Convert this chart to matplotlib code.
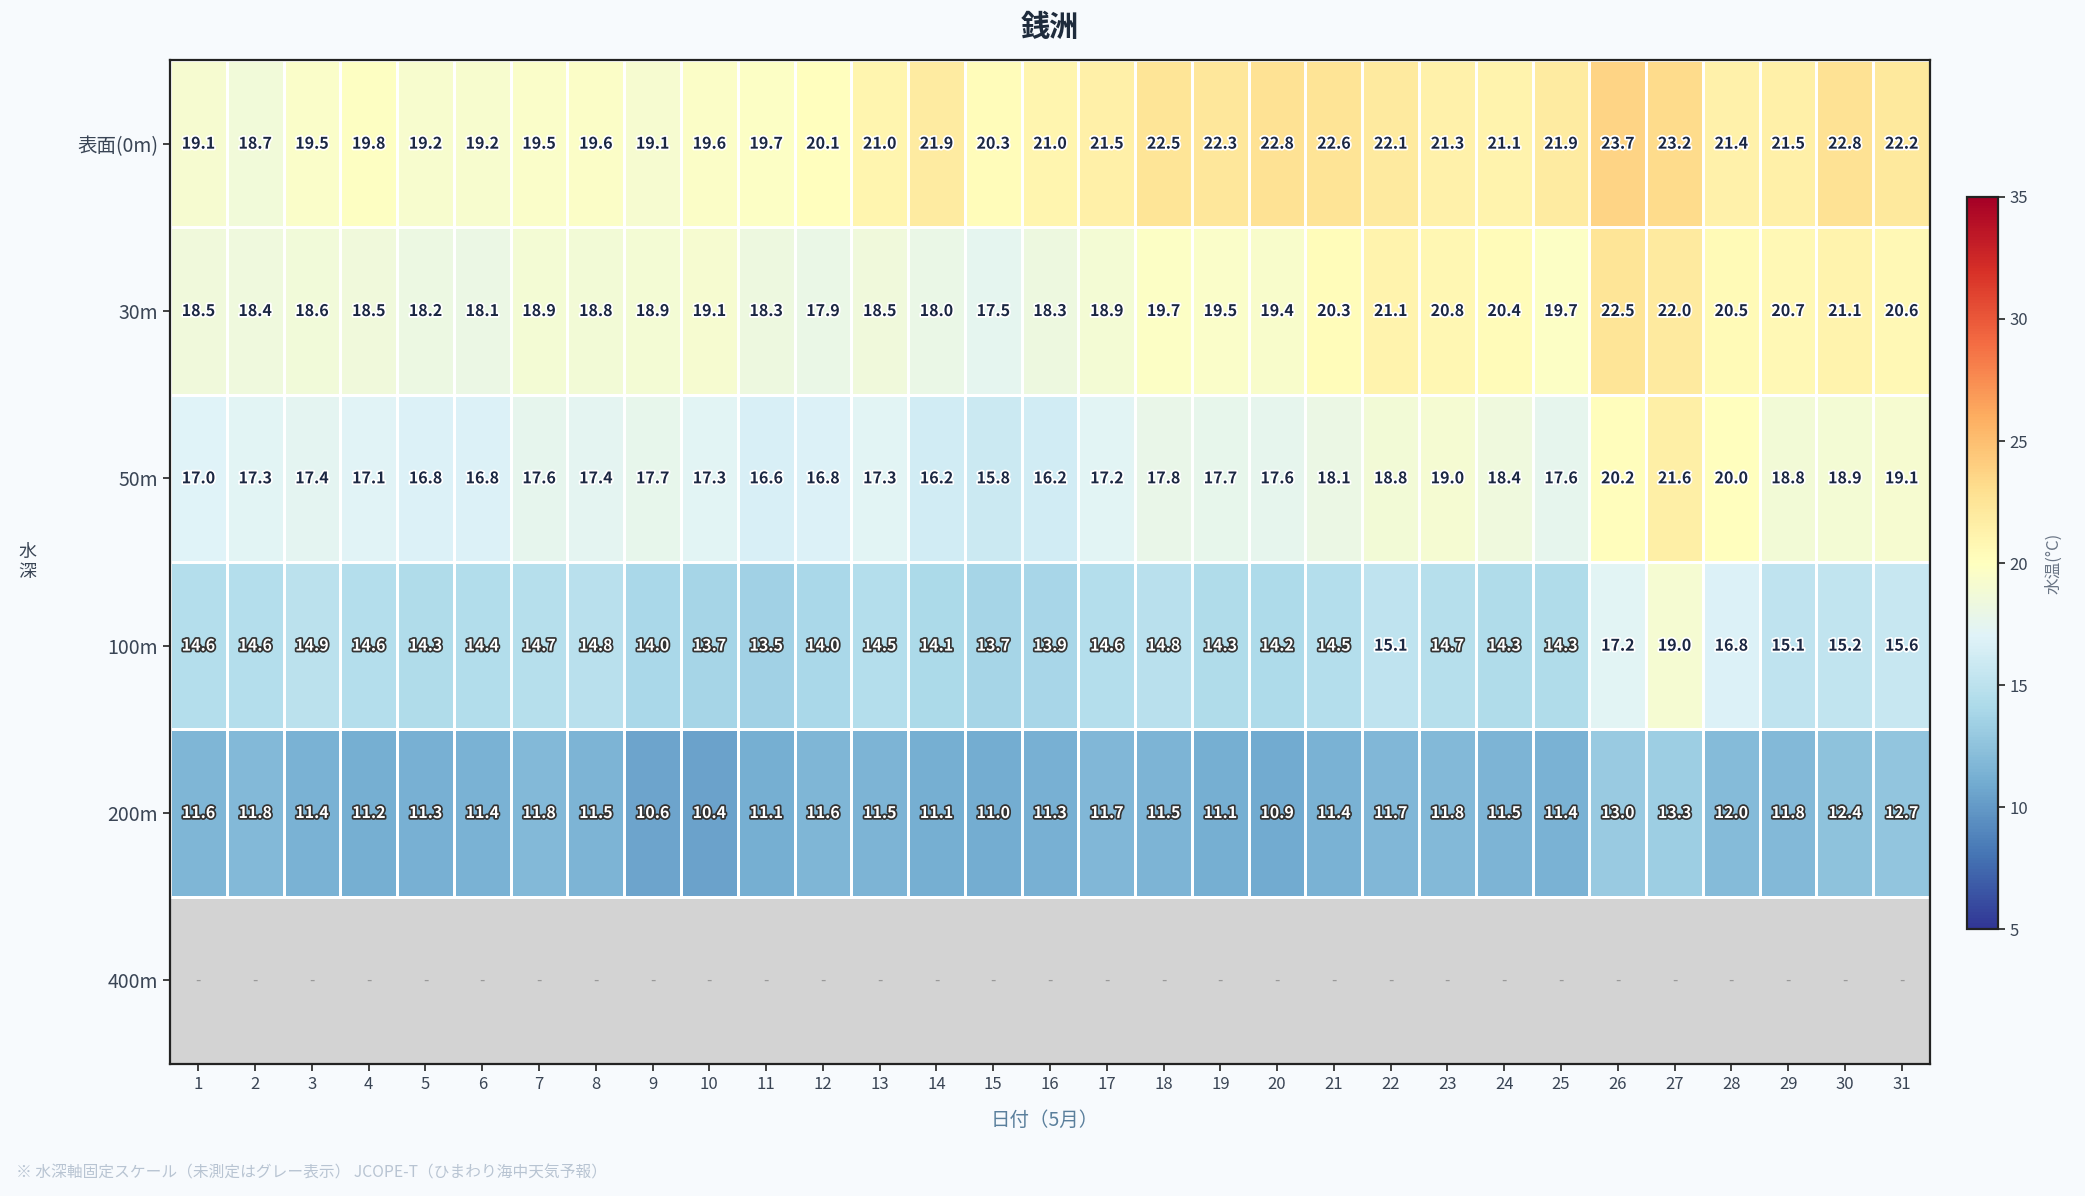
import numpy as np
import matplotlib
matplotlib.use("Agg")
import matplotlib.pyplot as plt
import matplotlib.patheffects as pe

plt.rcParams['font.family'] = ['Noto Sans CJK JP', 'DejaVu Sans']

title = "銭洲"
days = list(range(1, 32))
depth_labels = ["表面(0m)", "30m", "50m", "100m", "200m", "400m"]

temp_0m = [19.1, 18.7, 19.5, 19.8, 19.2, 19.2, 19.5, 19.6, 19.1, 19.6, 19.7, 20.1, 21.0, 21.9, 20.3, 21.0,
           21.5, 22.5, 22.3, 22.8, 22.6, 22.1, 21.3, 21.1, 21.9, 23.7, 23.2, 21.4, 21.5, 22.8, 22.2]
temp_30m = [18.5, 18.4, 18.6, 18.5, 18.2, 18.1, 18.9, 18.8, 18.9, 19.1, 18.3, 17.9, 18.5, 18.0, 17.5, 18.3,
            18.9, 19.7, 19.5, 19.4, 20.3, 21.1, 20.8, 20.4, 19.7, 22.5, 22.0, 20.5, 20.7, 21.1, 20.6]
temp_50m = [17.0, 17.3, 17.4, 17.1, 16.8, 16.8, 17.6, 17.4, 17.7, 17.3, 16.6, 16.8, 17.3, 16.2, 15.8, 16.2,
            17.2, 17.8, 17.7, 17.6, 18.1, 18.8, 19.0, 18.4, 17.6, 20.2, 21.6, 20.0, 18.8, 18.9, 19.1]
temp_100m = [14.6, 14.6, 14.9, 14.6, 14.3, 14.4, 14.7, 14.8, 14.0, 13.7, 13.5, 14.0, 14.5, 14.1, 13.7, 13.9,
             14.6, 14.8, 14.3, 14.2, 14.5, 15.1, 14.7, 14.3, 14.3, 17.2, 19.0, 16.8, 15.1, 15.2, 15.6]
temp_200m = [11.6, 11.8, 11.4, 11.2, 11.3, 11.4, 11.8, 11.5, 10.6, 10.4, 11.1, 11.6, 11.5, 11.1, 11.0, 11.3,
             11.7, 11.5, 11.1, 10.9, 11.4, 11.7, 11.8, 11.5, 11.4, 13.0, 13.3, 12.0, 11.8, 12.4, 12.7]
temp_400m = [np.nan] * 31

cbar_ticks = [5, 10, 15, 20, 25, 30, 35]
vmin, vmax = 5, 35

data = np.array([temp_0m, temp_30m, temp_50m, temp_100m, temp_200m, temp_400m], dtype=float)
masked = np.ma.masked_invalid(data)

W, H = 2085, 1196
fig = plt.figure(figsize=(W / 100, H / 100), dpi=100)
bg = "#f7fafd"
fig.patch.set_facecolor(bg)

ax = fig.add_axes([170 / W, 1 - 1064 / H, 1760 / W, 1004 / H])
ax.set_facecolor("#d3d3d3")

xe = np.arange(0.5, 32.5, 1.0)
ye = np.arange(0, 7)
mesh = ax.pcolormesh(xe, ye, masked, cmap="RdYlBu_r", vmin=vmin, vmax=vmax,
                     edgecolors="white", linewidth=2.0)
edge_cols = [(1, 1, 1, 0) if np.isnan(v) else (1, 1, 1, 1) for v in data.ravel()]
mesh.set_edgecolors(edge_cols)
ax.set_xlim(0.5, 31.5)
ax.set_ylim(6, 0)

for r in range(data.shape[0]):
    for c in range(data.shape[1]):
        v = data[r, c]
        x = days[c]
        y = r + 0.5
        if np.isnan(v):
            ax.text(x, y, "-", ha="center", va="center", fontsize=11, color="#999999")
        elif v < 15:
            ax.text(x, y, f"{v:.1f}", ha="center", va="center", fontsize=11.5, fontweight="bold",
                    color="white",
                    path_effects=[pe.withStroke(linewidth=2.5, foreground="#333333")])
        else:
            ax.text(x, y, f"{v:.1f}", ha="center", va="center", fontsize=11.5, fontweight="bold",
                    color="#1b2742",
                    path_effects=[pe.withStroke(linewidth=2.5, foreground="white")])

ax.set_xticks(days)
ax.set_xticklabels([str(d) for d in days], fontsize=12, color="#3a4555")
ax.set_yticks(np.arange(6) + 0.5)
ax.set_yticklabels(depth_labels, fontsize=14, color="#3a4555")
ax.tick_params(axis="both", length=5, width=1.2, color="#222222")
for s in ax.spines.values():
    s.set_color("#222222")
    s.set_linewidth(1.6)

fig.text(1050 / W, 1 - 27 / H, title, ha="center", va="center", fontsize=21,
         fontweight="bold", color="#1e2b3c")
fig.text(1045 / W, 1 - 1120 / H, "日付（5月）", ha="center", va="center", fontsize=14,
         color="#5a7f9c")
fig.text(27 / W, 1 - 562 / H, "水\n深", ha="center", va="center", fontsize=13,
         color="#3a4555", linespacing=1.1)
fig.text(16 / W, 1 - 1173 / H,
         "※ 水深軸固定スケール（未測定はグレー表示） JCOPE-T（ひまわり海中天気予報）",
         ha="left", va="center", fontsize=11.3, color="#b8c4d2")

cax = fig.add_axes([1967 / W, 1 - 929 / H, 31 / W, 732 / H])
cb = fig.colorbar(mesh, cax=cax, ticks=cbar_ticks)
cb.outline.set_edgecolor("#222222")
cb.outline.set_linewidth(1.6)
cb.ax.tick_params(labelsize=12, colors="#3a4555", length=5, width=1.2)
cb.ax.tick_params(color="#222222")
cb.set_label("水温(°C)", fontsize=12, color="#6a7585", labelpad=12)

fig.savefig("out.png", dpi=100, facecolor=fig.get_facecolor())
